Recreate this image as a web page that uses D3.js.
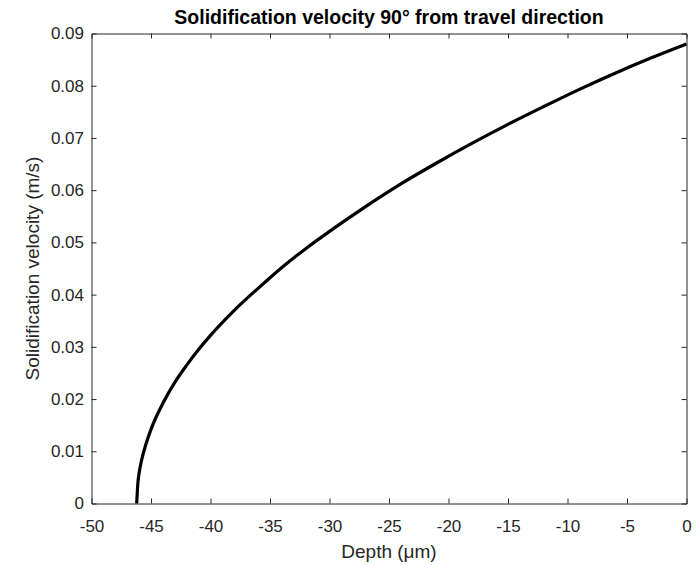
<html>
<head>
<script src="https://d3js.org/d3.v7.min.js"></script>
<title>Solidification velocity</title>
<style>
	body { margin: 0; background: #fff; }
	text { font-family: "Liberation Sans", Arial, sans-serif; }
</style>
</head>
<body>
<div id="chart"></div>
<script>
// values
var depth = [-46.2, -46.1, -46.0, -45.8, -45.5, -45, -44, -43, -42, -41, -40, -38, -36, -34, -32, -30, -27, -24, -21, -18, -15, -12, -9, -6, -3, 0];
var velocity = [0, 0.004, 0.0058, 0.0082, 0.0108, 0.0142, 0.0192, 0.0232, 0.0265, 0.0295, 0.0322, 0.0370, 0.0412, 0.0452, 0.0488, 0.0521, 0.0568, 0.0612, 0.0652, 0.0690, 0.0726, 0.0760, 0.0793, 0.0824, 0.0853, 0.0880];
var xTicks = [-50, -45, -40, -35, -30, -25, -20, -15, -10, -5, 0];
var yTicks = [0, 0.01, 0.02, 0.03, 0.04, 0.05, 0.06, 0.07, 0.08, 0.09];

var W = 697, H = 565;
var m = {left: 91.5, right: 686.5, top: 33.5, bottom: 503.5};
var axisColor = "#262626";

var svg = d3.select("#chart").append("svg")
	.attr("width", W)
	.attr("height", H);

var x = d3.scaleLinear().domain([-50, 0]).range([m.left, m.right]);
var y = d3.scaleLinear().domain([0, 0.09]).range([m.bottom, m.top]);

var fmtX = function(d) { return String(d); }; // plain hyphen minus like the original
var fmtY = function(d) { return d === 0 ? "0" : d3.format(".2f")(d); };

// box axes, ticks pointing inward
var gx = svg.append("g").attr("transform", "translate(0," + m.bottom + ")")
	.call(d3.axisBottom(x).tickValues(xTicks).tickSize(-5).tickPadding(16).tickFormat(fmtX));
var gxt = svg.append("g").attr("transform", "translate(0," + m.top + ")")
	.call(d3.axisTop(x).tickValues(xTicks).tickSize(-5).tickFormat(""));
var gy = svg.append("g").attr("transform", "translate(" + m.left + ",0)")
	.call(d3.axisLeft(y).tickValues(yTicks).tickSize(-5).tickPadding(7.5).tickFormat(fmtY));
var gyr = svg.append("g").attr("transform", "translate(" + m.right + ",0)")
	.call(d3.axisRight(y).tickValues(yTicks).tickSize(-5).tickFormat(""));

[gx, gxt, gy, gyr].forEach(function(g) {
	g.selectAll("path").attr("stroke", axisColor).attr("stroke-width", 1);
	g.selectAll("line").attr("stroke", axisColor).attr("stroke-width", 1);
	g.selectAll("text").attr("fill", axisColor).style("font-size", "17px")
		.style("font-family", "'Liberation Sans', Arial, sans-serif");
});
// no tick marks at the box corners
gx.selectAll(".tick").filter(function(d) { return d === -50 || d === 0; }).select("line").remove();
gxt.selectAll(".tick").filter(function(d) { return d === -50 || d === 0; }).select("line").remove();
gy.selectAll(".tick").filter(function(d) { return d === 0 || d === 0.09; }).select("line").remove();
gyr.selectAll(".tick").filter(function(d) { return d === 0 || d === 0.09; }).select("line").remove();

// curve
var pts = depth.map(function(d, i) { return [d, velocity[i]]; });
var line = d3.line()
	.x(function(d) { return x(d[0]); })
	.y(function(d) { return y(d[1]); })
	.curve(d3.curveMonotoneX);
svg.append("path")
	.datum(pts)
	.attr("d", line)
	.attr("fill", "none")
	.attr("stroke", "#000")
	.attr("stroke-width", 3.2);

// title and labels
svg.append("text")
	.attr("x", (m.left + m.right) / 2).attr("y", 24)
	.attr("text-anchor", "middle")
	.style("font-size", "19.5px").style("font-weight", "bold")
	.attr("fill", "#000")
	.text("Solidification velocity 90° from travel direction");
svg.append("text")
	.attr("x", (m.left + m.right) / 2).attr("y", 558)
	.attr("text-anchor", "middle")
	.style("font-size", "19px")
	.attr("fill", axisColor)
	.text("Depth (μm)");
svg.append("text")
	.attr("transform", "translate(39," + ((m.top + m.bottom) / 2) + ") rotate(-90)")
	.attr("text-anchor", "middle")
	.style("font-size", "19px")
	.attr("fill", axisColor)
	.text("Solidification velocity (m/s)");
</script>
</body>
</html>
